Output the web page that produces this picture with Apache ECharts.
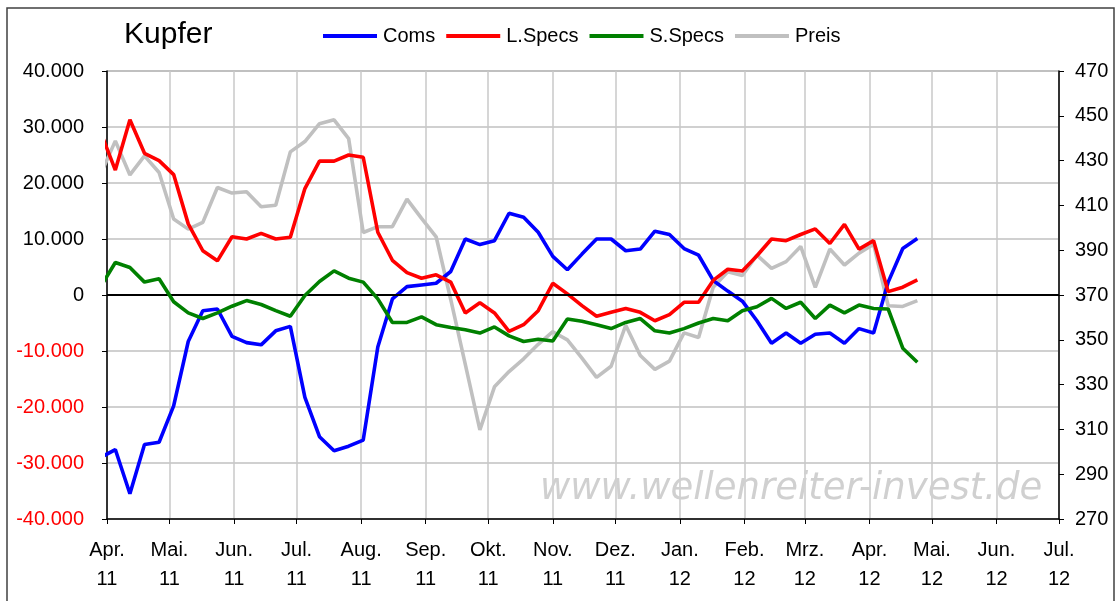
<!DOCTYPE html>
<html><head><meta charset="utf-8">
<script src="https://cdn.jsdelivr.net/npm/echarts@6/dist/echarts.min.js"></script>
<style>html,body{margin:0;padding:0;background:#fff}#c{width:1115px;height:601px}</style>
</head><body><div id="c"></div>
<script>
// weekly report dates
const weeks = ['2011-03-29','2011-04-05','2011-04-12','2011-04-19','2011-04-26','2011-05-03','2011-05-10','2011-05-17','2011-05-24','2011-05-31',
'2011-06-07','2011-06-14','2011-06-21','2011-06-28','2011-07-05','2011-07-12','2011-07-19','2011-07-26','2011-08-02','2011-08-09',
'2011-08-16','2011-08-23','2011-08-30','2011-09-06','2011-09-13','2011-09-20','2011-09-27','2011-10-04','2011-10-11','2011-10-18',
'2011-10-25','2011-11-01','2011-11-08','2011-11-15','2011-11-22','2011-11-29','2011-12-06','2011-12-13','2011-12-20','2011-12-27',
'2012-01-03','2012-01-10','2012-01-17','2012-01-24','2012-01-31','2012-02-07','2012-02-14','2012-02-21','2012-02-28','2012-03-06',
'2012-03-13','2012-03-20','2012-03-27','2012-04-03','2012-04-10','2012-04-17','2012-04-24'];
const coms = [-29000,-27600,-35500,-26700,-26300,-19800,-8300,-2800,-2500,-7400,
-8500,-8900,-6400,-5600,-18300,-25300,-27800,-27000,-25900,-9300,
-700,1500,1800,2100,4200,10000,9000,9700,14600,13900,
11200,6900,4500,7300,10000,10000,7900,8200,11400,10800,
8300,7100,2600,700,-1100,-4600,-8600,-6800,-8600,-7000,
-6800,-8600,-6000,-6800,2300,8300,10100];
const lSpecs = [29000,22300,31300,25300,24000,21500,12700,7900,6100,10400,
10000,11000,10000,10300,19000,23900,23900,25000,24600,11200,
6200,4000,3000,3600,2300,-3200,-1400,-3200,-6500,-5300,
-2800,2100,200,-1900,-3800,-3100,-2400,-3100,-4600,-3500,
-1300,-1300,2600,4600,4300,7000,10000,9700,10800,11800,
9200,12600,8200,9700,600,1400,2700];
const sSpecs = [1500,5800,4900,2300,2900,-1200,-3200,-4200,-3200,-2000,
-1000,-1700,-2800,-3800,-100,2400,4300,3000,2300,-700,
-4900,-4900,-3900,-5300,-5800,-6200,-6800,-5700,-7300,-8300,
-7900,-8200,-4300,-4700,-5300,-6000,-4900,-4200,-6400,-6800,
-6000,-5000,-4200,-4600,-2800,-2100,-600,-2400,-1300,-4200,
-1800,-3200,-1800,-2400,-2500,-9500,-12000];
const preis = [424,438.8,423.6,432.1,424.7,403.9,399.4,402.4,418.0,415.5,
416.1,409.4,410.1,433.9,438.5,446.5,448.2,439.8,397.9,400.5,
400.5,412.8,404.2,396.0,368,339,309.8,329.0,335.8,341.5,
348.0,353.6,350.0,341.8,333.2,338.2,356.5,343.0,336.8,340.5,
353.1,351.0,373.5,380.4,378.7,387.8,381.9,384.9,391.7,373.4,
390.5,383.4,388.7,392.7,365.2,364.9,367.5];
const seriesNames = ['Coms','L.Specs','S.Specs','Preis'];
const monthTicks = ['2011-04-01','2011-05-01','2011-06-01','2011-07-01','2011-08-01','2011-09-01','2011-10-01','2011-11-01',
'2011-12-01','2012-01-01','2012-02-01','2012-03-01','2012-04-01','2012-05-01','2012-06-01','2012-07-01'];
const monthLabels = ['Apr.','Mai.','Jun.','Jul.','Aug.','Sep.','Okt.','Nov.','Dez.','Jan.','Feb.','Mrz.','Apr.','Mai.','Jun.','Jul.'];
const yearLabels = ['11','11','11','11','11','11','11','11','11','12','12','12','12','12','12','12'];
const titleText = 'Kupfer';
const watermark = 'www.wellenreiter-invest.de';

function ts(s){ const p = s.split('-'); return Date.UTC(+p[0], +p[1]-1, +p[2]); }
const tickTs = monthTicks.map(ts);
const pairs = arr => arr.map((v,i) => [ts(weeks[i]), v]);
function fmtThousands(v){
  const a = Math.abs(Math.round(v)).toString().replace(/\B(?=(\d{3})+(?!\d))/g, '.');
  return (v < 0 ? '-' : '') + a;
}
const FONT = 'Liberation Sans, Arial, sans-serif';
const chart = echarts.init(document.getElementById('c'), null, {renderer:'canvas'});
const lineBase = (name, data, color, yi, z) => ({
  name, type:'line', data, yAxisIndex: yi, showSymbol:false, symbol:'none', clip:true,
  lineStyle:{color, width:3.6}, itemStyle:{color}, animation:false, z
});
const option = {
  animation:false,
  backgroundColor:'#fff',
  title:{ text:titleText, left:124, top:20, padding:0,
    textStyle:{ fontFamily:FONT, fontSize:30, fontWeight:'normal', color:'#000' } },
  legend:{ left:323, top:26, padding:0, itemGap:11, itemWidth:54, itemHeight:4, icon:'rect',
    data: seriesNames,
    textStyle:{ fontFamily:FONT, fontSize:20, color:'#000', padding:[0,0,0,1] } },
  grid:{ left:107, right:56, top:71, bottom:82, show:true, borderColor:'#808080', borderWidth:1, outerBoundsMode:'none' },
  xAxis:{
    type:'value', min: tickTs[0], max: tickTs[tickTs.length-1],
    axisLine:{ show:true, onZero:false, lineStyle:{color:'#000', width:1.5} },
    axisTick:{ show:true, length:5, customValues: tickTs, lineStyle:{color:'#000'} },
    axisLabel:{ customValues: tickTs, margin:17, lineHeight:29, fontFamily:FONT, fontSize:20, color:'#000',
      formatter: v => { const i = tickTs.indexOf(v); return i < 0 ? '' : monthLabels[i] + '\n' + yearLabels[i]; } },
    splitLine:{ show:true, lineStyle:{ color:'#c8c8c8', width:1.5 } }
  },
  yAxis:[{
    type:'value', min:-40000, max:40000, interval:10000, position:'left',
    axisLine:{ show:true, lineStyle:{color:'#000', width:1.5} },
    axisTick:{ show:true, length:5, lineStyle:{color:'#000'} },
    axisLabel:{ margin:23, fontFamily:FONT, fontSize:20, formatter: fmtThousands,
      color: v => (Number(v) < 0 ? '#ff0000' : '#000') },
    splitLine:{ show:true, lineStyle:{ color:'#c0c0c0', width:1.5 } }
  },{
    type:'value', min:270, max:470, interval:20, position:'right',
    axisLine:{ show:true, lineStyle:{color:'#000', width:1.5} },
    axisTick:{ show:true, length:5, lineStyle:{color:'#000'} },
    axisLabel:{ margin:16, fontFamily:FONT, fontSize:20, color:'#000' },
    splitLine:{ show:false }
  }],
  series:[
    Object.assign(lineBase('Coms', pairs(coms), '#0000ff', 0, 3), {
      markLine:{ silent:true, symbol:['none','none'], label:{show:false}, animation:false,
        lineStyle:{ color:'#000', width:2, type:'solid' }, data:[{ yAxis:0 }] } }),
    lineBase('L.Specs', pairs(lSpecs), '#ff0000', 0, 4),
    lineBase('S.Specs', pairs(sSpecs), '#008000', 0, 5),
    lineBase('Preis', pairs(preis), '#c0c0c0', 1, 2)
  ],
  graphic:[
    { type:'rect', silent:true, z:-1, shape:{ x:7, y:8, width:1107, height:620 },
      style:{ fill:'none', stroke:'#404040', lineWidth:1.5 } },
    { type:'text', silent:true, z:1, left:540, top:471,
      style:{ text: watermark, font:'oblique 37px DejaVu Sans', fill:'#d0d0d0',
        shadowColor:'rgba(0,0,0,0.3)', shadowBlur:3, shadowOffsetX:1, shadowOffsetY:1 } }
  ]
};
chart.setOption(option);
</script></body></html>
